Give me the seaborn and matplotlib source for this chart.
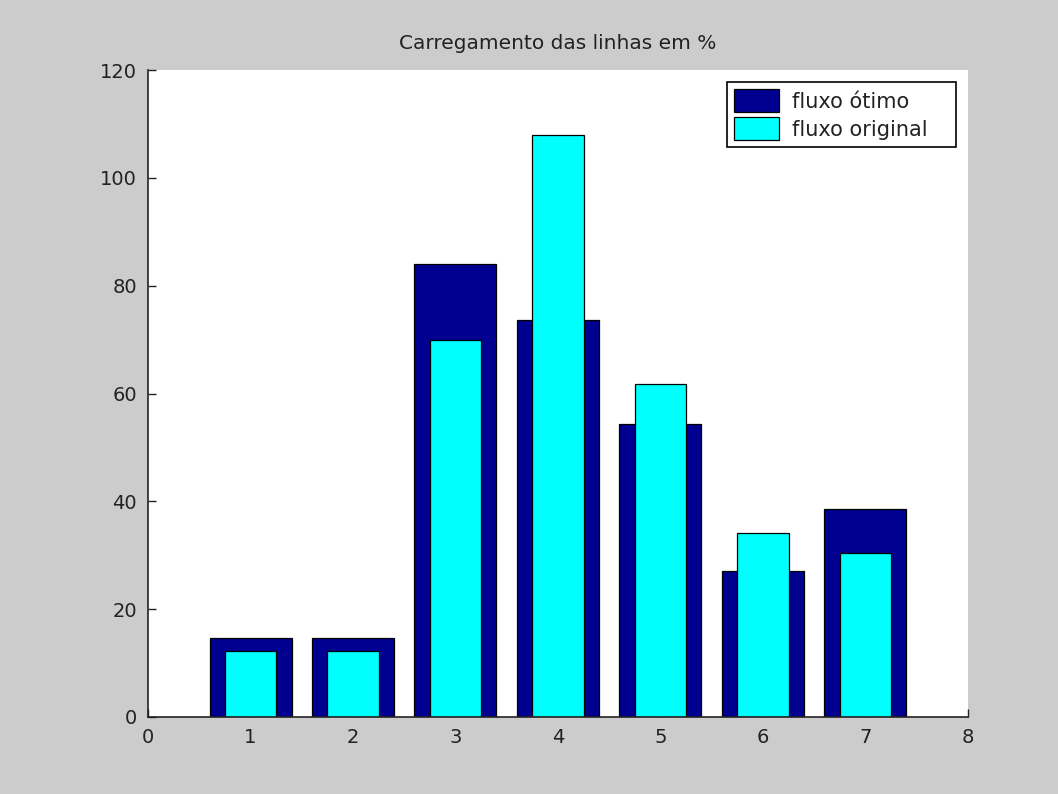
import matplotlib
matplotlib.use("Agg")
import matplotlib.pyplot as plt
import seaborn as sns
import pandas as pd

lines = [1, 2, 3, 4, 5, 6, 7]
fluxo_otimo = [14.7, 14.7, 84.1, 73.7, 54.3, 27.1, 38.6]
fluxo_original = [12.2, 12.2, 70.0, 108.0, 61.8, 34.1, 30.5]
xticks = [0, 1, 2, 3, 4, 5, 6, 7, 8]
yticks = [0, 20, 40, 60, 80, 100, 120]

sns.set_style("white")
plt.rcParams["font.family"] = ["DejaVu Sans"]

fig = plt.figure(figsize=(10.58, 7.94), dpi=100, facecolor="#cccccc")
ax = fig.add_axes([0.1399, 0.0970, 0.775, 0.8148])
ax.set_facecolor("white")

df1 = pd.DataFrame({"x": lines, "y": fluxo_otimo})
df2 = pd.DataFrame({"x": lines, "y": fluxo_original})

sns.barplot(data=df1, x="x", y="y", native_scale=True, width=0.8,
            color="#000090", saturation=1, edgecolor="black", linewidth=0.9,
            ax=ax, label="fluxo ótimo")
sns.barplot(data=df2, x="x", y="y", native_scale=True, width=0.5,
            color="#00ffff", saturation=1, edgecolor="black", linewidth=0.9,
            ax=ax, label="fluxo original")

ax.set_xlim(0, 8)
ax.set_ylim(0, 120)
ax.set_xticks(xticks)
ax.set_yticks(yticks)
ax.set_xticklabels([str(t) for t in xticks])
ax.set_yticklabels([str(t) for t in yticks])
ax.set_xlabel("")
ax.set_ylabel("")
ax.tick_params(direction="in", length=5.8, width=1, colors="#222222",
               labelsize=14, pad=8, bottom=True, left=True)
for s in ["top", "right"]:
    ax.spines[s].set_visible(False)
for s in ["left", "bottom"]:
    ax.spines[s].set_color("#222222")
    ax.spines[s].set_linewidth(1.2)

ax.set_title("Carregamento das linhas em %", fontsize=14.5, pad=15,
             color="#222222")

leg = ax.legend(loc="upper right", bbox_to_anchor=(0.706, 0.70, 0.279, 0.2815),
                mode="expand", fontsize=15, frameon=True, fancybox=False,
                framealpha=1, edgecolor="black", handlelength=2.16,
                handleheight=1.3, borderpad=0.35, labelspacing=0.25,
                handletextpad=0.6, borderaxespad=0)
leg.get_frame().set_linewidth(1.2)
for t in leg.get_texts():
    t.set_color("#222222")

fig.savefig("out.png", dpi=100, facecolor=fig.get_facecolor())
